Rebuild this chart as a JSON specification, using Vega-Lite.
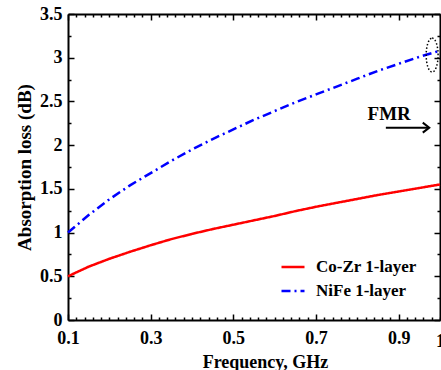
{
  "$schema": "https://vega.github.io/schema/vega-lite/v6.json",
  "width": 372,
  "height": 306,
  "autosize": {"type": "none"},
  "padding": {"left": 68, "top": 14, "right": 1, "bottom": 50},
  "background": "white",
  "config": {
    "view": {"stroke": null},
    "font": "Liberation Serif",
    "axis": {
      "grid": false,
      "domainColor": "black",
      "domainWidth": 2,
      "tickColor": "black",
      "tickWidth": 1.5,
      "labelColor": "black",
      "labelFont": "Liberation Serif",
      "labelFontWeight": "bold",
      "labelFontSize": 18,
      "titleFont": "Liberation Serif",
      "titleFontWeight": "bold",
      "titleColor": "black",
      "labelOverlap": false,
      "labelFlush": false
    },
    "legend": {
      "orient": "none",
      "legendX": 212,
      "legendY": 240,
      "padding": 0,
      "symbolType": "stroke",
      "symbolSize": 529,
      "symbolStrokeWidth": 2.5,
      "labelFont": "Liberation Serif",
      "labelFontWeight": "bold",
      "labelFontSize": 17,
      "labelColor": "black",
      "labelOffset": 10,
      "rowPadding": 3,
      "labelLimit": 300
    }
  },
  "datasets": {
    "curves": [
      {"f": 0.10, "v": 0.50, "s": "Co-Zr 1-layer"},
      {"f": 0.15, "v": 0.61, "s": "Co-Zr 1-layer"},
      {"f": 0.20, "v": 0.70, "s": "Co-Zr 1-layer"},
      {"f": 0.25, "v": 0.78, "s": "Co-Zr 1-layer"},
      {"f": 0.30, "v": 0.855, "s": "Co-Zr 1-layer"},
      {"f": 0.35, "v": 0.925, "s": "Co-Zr 1-layer"},
      {"f": 0.40, "v": 0.985, "s": "Co-Zr 1-layer"},
      {"f": 0.45, "v": 1.04, "s": "Co-Zr 1-layer"},
      {"f": 0.50, "v": 1.09, "s": "Co-Zr 1-layer"},
      {"f": 0.55, "v": 1.14, "s": "Co-Zr 1-layer"},
      {"f": 0.60, "v": 1.19, "s": "Co-Zr 1-layer"},
      {"f": 0.65, "v": 1.245, "s": "Co-Zr 1-layer"},
      {"f": 0.70, "v": 1.295, "s": "Co-Zr 1-layer"},
      {"f": 0.75, "v": 1.34, "s": "Co-Zr 1-layer"},
      {"f": 0.80, "v": 1.385, "s": "Co-Zr 1-layer"},
      {"f": 0.85, "v": 1.43, "s": "Co-Zr 1-layer"},
      {"f": 0.90, "v": 1.47, "s": "Co-Zr 1-layer"},
      {"f": 0.95, "v": 1.51, "s": "Co-Zr 1-layer"},
      {"f": 1.00, "v": 1.55, "s": "Co-Zr 1-layer"},
      {"f": 0.10, "v": 1.00, "s": "NiFe 1-layer"},
      {"f": 0.15, "v": 1.20, "s": "NiFe 1-layer"},
      {"f": 0.20, "v": 1.38, "s": "NiFe 1-layer"},
      {"f": 0.25, "v": 1.54, "s": "NiFe 1-layer"},
      {"f": 0.30, "v": 1.68, "s": "NiFe 1-layer"},
      {"f": 0.35, "v": 1.82, "s": "NiFe 1-layer"},
      {"f": 0.40, "v": 1.95, "s": "NiFe 1-layer"},
      {"f": 0.45, "v": 2.07, "s": "NiFe 1-layer"},
      {"f": 0.50, "v": 2.18, "s": "NiFe 1-layer"},
      {"f": 0.55, "v": 2.29, "s": "NiFe 1-layer"},
      {"f": 0.60, "v": 2.39, "s": "NiFe 1-layer"},
      {"f": 0.65, "v": 2.49, "s": "NiFe 1-layer"},
      {"f": 0.70, "v": 2.58, "s": "NiFe 1-layer"},
      {"f": 0.75, "v": 2.67, "s": "NiFe 1-layer"},
      {"f": 0.80, "v": 2.76, "s": "NiFe 1-layer"},
      {"f": 0.85, "v": 2.85, "s": "NiFe 1-layer"},
      {"f": 0.90, "v": 2.93, "s": "NiFe 1-layer"},
      {"f": 0.95, "v": 3.01, "s": "NiFe 1-layer"},
      {"f": 1.00, "v": 3.08, "s": "NiFe 1-layer"}
    ]
  },
  "layer": [
    {
      "data": {"name": "curves"},
      "mark": {"type": "line", "strokeWidth": 2.5},
      "encoding": {
        "x": {
          "field": "f", "type": "quantitative",
          "scale": {"domain": [0.1, 1], "nice": false, "zero": false},
          "axis": {
            "orient": "bottom",
            "title": "Frequency, GHz",
            "titleFontSize": 18,
            "titlePadding": 3,
            "titleX": 197,
            "values": [0.1,0.12,0.14,0.16,0.18,0.2,0.22,0.24,0.26,0.28,0.3,0.32,0.34,0.36,0.38,0.4,0.42,0.44,0.46,0.48,0.5,0.52,0.54,0.56,0.58,0.6,0.62,0.64,0.66,0.68,0.7,0.72,0.74,0.76,0.78,0.8,0.82,0.84,0.86,0.88,0.9,0.92,0.94,0.96,0.98,1],
            "labelExpr": "(abs(datum.value*10 - round(datum.value*10)) < 1e-6 && (round(datum.value*10) % 2 == 1 || round(datum.value*10) == 10)) ? format(datum.value, '~g') : ''",
            "tickSize": {"condition": {"test": "abs(datum.value*10 - round(datum.value*10)) < 1e-6 && round(datum.value*10) % 2 == 1", "value": -6}, "value": -3},
            "labelPadding": 15
          }
        },
        "y": {
          "field": "v", "type": "quantitative",
          "scale": {"domain": [0, 3.5], "nice": false},
          "axis": {
            "orient": "left",
            "title": "Absorption loss (dB)",
            "titleFontSize": 19,
            "titlePadding": 5,
            "values": [0,0.25,0.5,0.75,1,1.25,1.5,1.75,2,2.25,2.5,2.75,3,3.25,3.5],
            "labelExpr": "datum.value % 0.5 == 0 ? format(datum.value, '~g') : ''",
            "tickSize": {"condition": {"test": "datum.value % 0.5 == 0", "value": -6}, "value": -3},
            "labelPadding": 12
          }
        },
        "color": {
          "field": "s", "type": "nominal", "title": null,
          "scale": {"domain": ["Co-Zr 1-layer", "NiFe 1-layer"], "range": ["#ff0000", "#0000ff"]}
        },
        "strokeDash": {
          "field": "s", "type": "nominal", "title": null,
          "scale": {"domain": ["Co-Zr 1-layer", "NiFe 1-layer"], "range": [[1, 0], [9, 4, 2, 4]]}
        }
      }
    },
    {
      "data": {"name": "curves"},
      "mark": {"type": "point", "opacity": 0},
      "encoding": {
        "x": {
          "field": "f", "type": "quantitative",
          "axis": {
            "orient": "top", "title": null, "labels": false,
            "values": [0.1,0.12,0.14,0.16,0.18,0.2,0.22,0.24,0.26,0.28,0.3,0.32,0.34,0.36,0.38,0.4,0.42,0.44,0.46,0.48,0.5,0.52,0.54,0.56,0.58,0.6,0.62,0.64,0.66,0.68,0.7,0.72,0.74,0.76,0.78,0.8,0.82,0.84,0.86,0.88,0.9,0.92,0.94,0.96,0.98,1],
            "tickSize": {"condition": {"test": "abs(datum.value*10 - round(datum.value*10)) < 1e-6 && round(datum.value*10) % 2 == 1", "value": -6}, "value": -3}
          }
        },
        "y": {
          "field": "v", "type": "quantitative",
          "axis": {
            "orient": "right", "title": null, "labels": false,
            "values": [0,0.25,0.5,0.75,1,1.25,1.5,1.75,2,2.25,2.5,2.75,3,3.25,3.5],
            "tickSize": {"condition": {"test": "datum.value % 0.5 == 0", "value": -6}, "value": -3}
          }
        }
      }
    },
    {
      "data": {"values": [{"f": 0.877, "v": 2.29, "t": "FMR"}]},
      "mark": {"type": "text", "font": "Liberation Serif", "fontWeight": "bold", "fontSize": 19, "align": "center", "baseline": "alphabetic", "color": "black"},
      "encoding": {
        "x": {"field": "f", "type": "quantitative", "axis": null},
        "y": {"field": "v", "type": "quantitative", "axis": null},
        "text": {"field": "t"}
      }
    },
    {
      "data": {"values": [{"f": 0.869, "f2": 0.972, "v": 2.2}]},
      "mark": {"type": "rule", "color": "black", "strokeWidth": 2},
      "encoding": {
        "x": {"field": "f", "type": "quantitative", "axis": null},
        "x2": {"field": "f2"},
        "y": {"field": "v", "type": "quantitative", "axis": null}
      }
    },
    {
      "data": {"values": [{"f": 0.974, "v": 2.2}]},
      "mark": {"type": "point", "shape": "M-1.3,-1L0,0L-1.3,1", "size": 100, "filled": false, "stroke": "black", "strokeWidth": 2, "opacity": 1},
      "encoding": {
        "x": {"field": "f", "type": "quantitative", "axis": null},
        "y": {"field": "v", "type": "quantitative", "axis": null}
      }
    },
    {
      "data": {"values": [{"f": 0.981, "v": 3.03}]},
      "mark": {"type": "point", "shape": "M0,-1A0.35,1 0 1,1 0,1A0.35,1 0 1,1 0,-1Z", "size": 1156, "filled": false, "stroke": "black", "strokeWidth": 1.5, "strokeDash": [1.5, 2], "opacity": 1},
      "encoding": {
        "x": {"field": "f", "type": "quantitative", "axis": null},
        "y": {"field": "v", "type": "quantitative", "axis": null}
      }
    }
  ],
  "resolve": {"axis": {"x": "independent", "y": "independent"}}
}
